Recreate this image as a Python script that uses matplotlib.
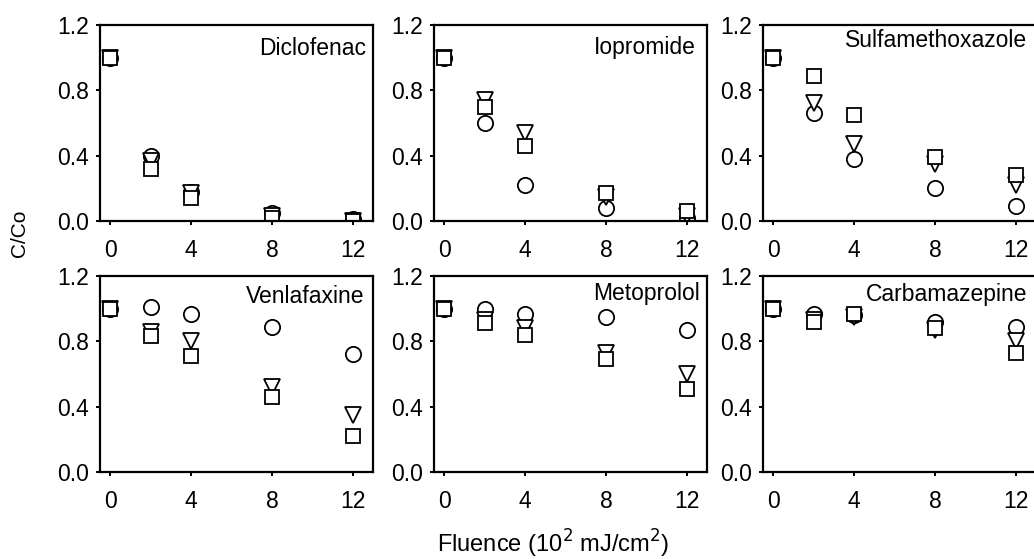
import matplotlib
matplotlib.use("Agg")
import matplotlib.pyplot as plt

plt.rcParams['font.family'] = ['Liberation Sans', 'DejaVu Sans']

# Fluence (10^2 mJ/cm2)
fluence = [0, 2, 4, 8, 12]
compounds = ['Diclofenac', 'Iopromide', 'Sulfamethoxazole',
             'Venlafaxine', 'Metoprolol', 'Carbamazepine']

# C/Co for the three series (circle, triangle, square)
circles = {
    'Diclofenac':       [1.00, 0.40, 0.18, 0.05, 0.01],
    'Iopromide':        [1.00, 0.60, 0.22, 0.08, 0.02],
    'Sulfamethoxazole': [1.00, 0.66, 0.38, 0.20, 0.09],
    'Venlafaxine':      [1.00, 1.01, 0.97, 0.89, 0.72],
    'Metoprolol':       [1.00, 1.00, 0.97, 0.95, 0.87],
    'Carbamazepine':    [1.00, 0.97, 0.96, 0.92, 0.89],
}
triangles = {
    'Diclofenac':       [1.00, 0.37, 0.17, 0.03, 0.00],
    'Iopromide':        [1.00, 0.74, 0.54, 0.15, 0.03],
    'Sulfamethoxazole': [1.00, 0.72, 0.47, 0.35, 0.22],
    'Venlafaxine':      [1.00, 0.86, 0.80, 0.52, 0.35],
    'Metoprolol':       [1.00, 0.93, 0.88, 0.73, 0.60],
    'Carbamazepine':    [1.00, 0.93, 0.95, 0.87, 0.80],
}
squares = {
    'Diclofenac':       [1.00, 0.32, 0.14, 0.02, 0.00],
    'Iopromide':        [1.00, 0.70, 0.46, 0.17, 0.06],
    'Sulfamethoxazole': [1.00, 0.89, 0.65, 0.39, 0.28],
    'Venlafaxine':      [1.00, 0.83, 0.71, 0.46, 0.22],
    'Metoprolol':       [1.00, 0.91, 0.84, 0.69, 0.51],
    'Carbamazepine':    [1.00, 0.92, 0.97, 0.88, 0.73],
}

W, H = 1034, 559
fig = plt.figure(figsize=(W / 100, H / 100), dpi=100)

col_left = [100, 434, 763]
row_top = [25, 276]
aw, ah = 273, 196

# panel name placement: (px from right spine, px from top spine to baseline)
name_pos = {
    'Diclofenac': (7, 30), 'Iopromide': (11, 29), 'Sulfamethoxazole': (9, 22),
    'Venlafaxine': (9, 27), 'Metoprolol': (7, 24), 'Carbamazepine': (9, 25),
}

style = dict(linestyle='none', markerfacecolor='white',
             markeredgecolor='black', markeredgewidth=1.3)
px = 0.72  # points per pixel at 100 dpi

for i, name in enumerate(compounds):
    r, c = divmod(i, 3)
    l = col_left[c]
    t = row_top[r]
    ax = fig.add_axes([l / W, 1 - (t + ah) / H, aw / W, ah / H])
    ax.plot(fluence, circles[name], marker='o', markersize=11, **style)
    ax.plot(fluence, triangles[name], marker='v', markersize=12, **style)
    ax.plot(fluence, squares[name], marker='s', markersize=10, **style)
    ax.set_xlim(-0.5, 13)
    ax.set_ylim(0, 1.2)
    ax.set_xticks([0, 4, 8, 12])
    ax.set_yticks([0.0, 0.4, 0.8, 1.2])
    ax.set_yticklabels(['0.0', '0.4', '0.8', '1.2'])
    for sp in ax.spines.values():
        sp.set_linewidth(1.6)
    ax.tick_params(direction='out', length=3, width=1.4, labelsize=16.5)
    ax.tick_params(axis='y', pad=5)
    ax.tick_params(axis='x', pad=10)
    dx, dy = name_pos[name]
    ax.annotate(name, xy=(1, 1), xycoords='axes fraction',
                xytext=(-dx * px, -dy * px), textcoords='offset points',
                ha='right', va='baseline', fontsize=16.5)

fig.text(19 / W, 1 - 233 / H, 'C/Co', rotation=90, ha='center', va='center',
         fontsize=15)
fig.text(553 / W, 1 - 553 / H, 'Fluence (10$^{2}$ mJ/cm$^{2}$)',
         ha='center', va='baseline', fontsize=17)

fig.savefig('out.png', dpi=100)
